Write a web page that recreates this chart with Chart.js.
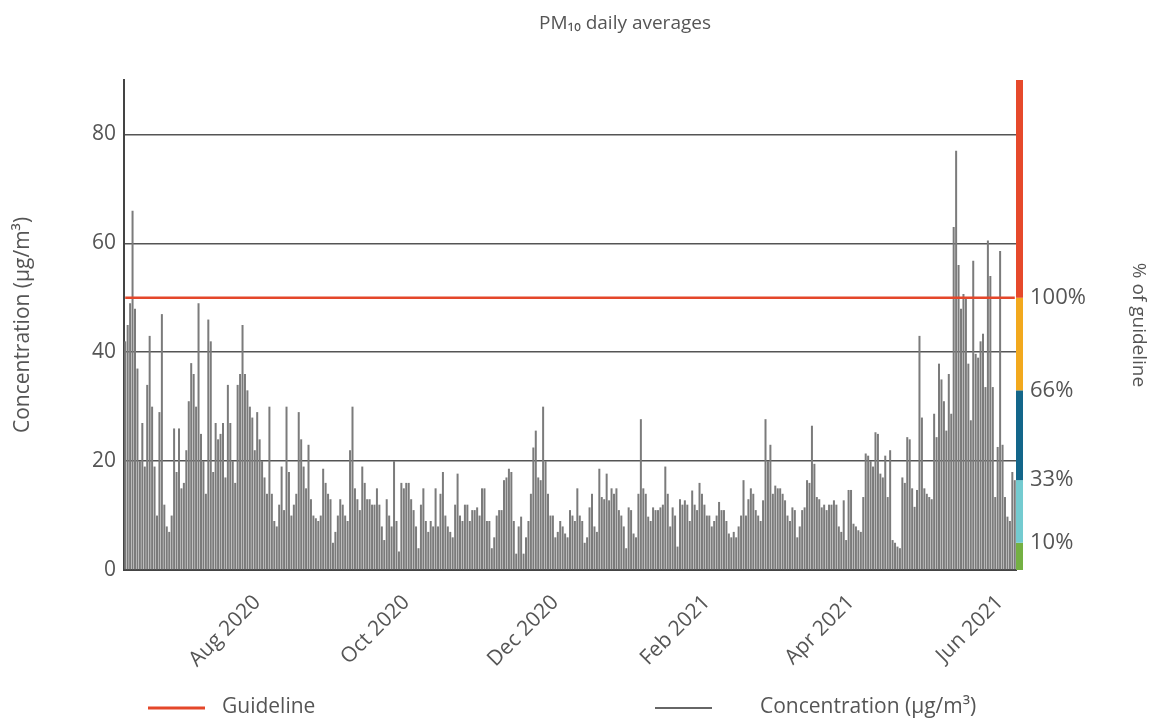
<!DOCTYPE html>
<html lang="en">
<head>
<meta charset="UTF-8">
<title>PM10 daily averages</title>
<script src="https://cdn.jsdelivr.net/npm/chart.js"></script>
<style>
    body { margin: 0; background: #fff; }
    .chart-box { position: relative; width: 1158px; height: 725px; }
</style>
</head>
<body>
<div class="chart-box"><canvas id="pmChart"></canvas></div>
<script>
// daily PM10 values, first day is 8 Jun 2020
const jun2020 = [42, 45, 49, 66, 48, 37, 20, 27, 19, 34, 43, 30, 19, 10, 29, 47, 12, 8, 7, 10, 26, 18, 26];
const jul2020 = [15, 16, 22, 31, 38, 36, 30, 49, 25, 20, 14, 46, 42, 18, 27, 24, 25, 27, 17, 34, 27, 20, 16, 34, 36, 45, 36, 33, 30, 28, 22];
const aug2020 = [29, 24, 20, 17, 14, 30, 14, 9, 8, 12, 19, 11, 30, 18, 10, 12, 14, 29, 24, 19, 15, 23, 13, 10, 9.5, 9, 10, 18.6, 16, 14, 13];
const sep2020 = [5, 7, 10, 13, 12, 10, 9, 22, 30, 15, 13, 11, 19, 16, 13, 13, 12, 12, 15, 12, 8, 5.5, 13, 10, 8, 20, 9, 3.4, 16, 15];
const oct2020 = [16, 16, 13, 11, 8, 4, 12, 15, 9, 7, 9, 8, 15, 8, 14, 18, 10, 8, 7, 6, 12, 17.7, 10, 9, 12, 12, 9, 11, 11, 11.5, 10];
const nov2020 = [15, 15, 9, 9, 4, 6, 10, 11, 11, 16.5, 17, 18.6, 18, 9, 3, 8, 9.8, 3, 6, 9, 14, 22.5, 25.6, 17, 16.5, 30, 20, 14, 10, 10];
const dec2020 = [6, 7, 9, 8, 6.7, 6, 11, 10, 9, 15, 10, 9, 5, 6, 11.5, 14, 8, 7, 18.6, 13.4, 13, 17.7, 12.8, 15, 14, 15, 11, 10, 8, 4, 11.5];
const jan2021 = [11, 6.7, 6, 14, 27.7, 15, 14, 9.8, 9, 11.5, 11, 11, 11.5, 12, 19, 14, 8, 11.5, 10, 4.3, 13, 12, 12.8, 12, 9, 14.6, 12, 11, 16, 14, 12];
const feb2021 = [10, 10, 8, 9, 10, 12.5, 11, 11, 9, 6.7, 6, 7, 6, 8, 10, 16.5, 10, 13, 15, 14, 11, 10, 9, 12.8, 27.7, 20, 23, 14];
const mar2021 = [15.5, 15, 15, 14, 12.8, 10, 9, 11.5, 11, 6, 8, 11, 11.5, 16.5, 16, 26.5, 19.5, 13.4, 13, 11.5, 12, 11, 12, 12, 12.8, 12, 8, 7, 12.8, 5.5, 14.7];
const apr2021 = [14.7, 8.5, 8, 7.3, 7, 13.4, 21.4, 21, 20, 19, 25.3, 25, 17.7, 17, 21, 13.4, 22, 5.5, 5, 4.3, 4, 17, 16, 24.4, 24, 15, 11.6, 14.7, 43, 28];
const may2021 = [15, 14, 13.4, 13, 28.7, 24.4, 37.9, 35, 31, 25.6, 36, 28.7, 63, 77, 56, 48, 50.7, 50, 37.9, 27.5, 56.8, 39.7, 39, 42, 43.4, 33.6, 60.5, 54, 33.6, 13.4, 22.6];
const jun2021 = [58.6, 23, 13.4, 9.8, 9, 18, 16.5];

const tickMonths = ['Aug 2020', 'Oct 2020', 'Dec 2020', 'Feb 2021', 'Apr 2021', 'Jun 2021'];
const yTicks = [0, 20, 40, 60, 80];
const guideline = 50;

// colour strip on the right: edges in µg/m³ and the % labels at the inner edges
const bandEdges = [0, 5, 16.5, 33, 50, 90];
const bandColours = ['#74b043', '#74cbd0', '#13668a', '#f2a91e', '#e6492b'];
const bandLabels = ['10%', '33%', '66%', '100%'];

const monthNames = ['Jan', 'Feb', 'Mar', 'Apr', 'May', 'Jun', 'Jul', 'Aug', 'Sep', 'Oct', 'Nov', 'Dec'];
const concentration = [].concat(jun2020, jul2020, aug2020, sep2020, oct2020, nov2020,
    dec2020, jan2021, feb2021, mar2021, apr2021, may2021, jun2021);

const days = concentration.map((v, i) => {
    const d = new Date(Date.UTC(2020, 5, 8 + i));
    const m = monthNames[d.getUTCMonth()] + ' ' + d.getUTCFullYear();
    return d.getUTCDate() === 1 ? m : m + ' ' + d.getUTCDate();
});

Chart.defaults.font.family = "'Open Sans', sans-serif";
Chart.defaults.color = '#555';

const bandPlugin = {
    id: 'bandStrip',
    afterDatasetsDraw(chart) {
        const ctx = chart.ctx;
        const y = chart.scales.y;
        const x0 = chart.chartArea.right;
        ctx.save();
        for (let k = 0; k < bandColours.length; k++) {
            const top = y.getPixelForValue(bandEdges[k + 1]);
            const bot = y.getPixelForValue(bandEdges[k]);
            ctx.fillStyle = bandColours[k];
            ctx.fillRect(x0, top, 7, bot - top);
        }
        ctx.restore();
    }
};

const extrasPlugin = {
    id: 'extras',
    afterDraw(chart) {
        const ctx = chart.ctx;
        ctx.save();
        // title
        ctx.fillStyle = '#555';
        ctx.font = "19px 'Open Sans', sans-serif";
        ctx.textAlign = 'center';
        ctx.textBaseline = 'middle';
        ctx.fillText('PM₁₀ daily averages', 625, 24);

        // legend, spread like the original
        const items = [
            { ds: chart.data.datasets[1], x: 148 },
            { ds: chart.data.datasets[0], x: 655 }
        ];
        ctx.textAlign = 'left';
        ctx.font = "21px 'Open Sans', sans-serif";
        items.forEach(it => {
            ctx.strokeStyle = it.ds.borderColor;
            ctx.lineWidth = it.ds.legendWidth;
            ctx.beginPath();
            ctx.moveTo(it.x, 708);
            ctx.lineTo(it.x + 57, 708);
            ctx.stroke();
            ctx.fillStyle = '#555';
            ctx.fillText(it.ds.label, it.x + it.ds.legendGap, 707);
        });
        ctx.restore();
    }
};

new Chart(document.getElementById('pmChart'), {
    data: {
        labels: days,
        datasets: [
            {
                type: 'bar',
                label: 'Concentration (µg/m³)',
                data: concentration,
                backgroundColor: '#7b7b7b',
                borderColor: '#666',
                borderWidth: 0,
                legendWidth: 2,
                legendGap: 105,
                barPercentage: 0.82,
                categoryPercentage: 1,
                order: 2
            },
            {
                type: 'line',
                label: 'Guideline',
                data: concentration.map(() => guideline),
                borderColor: '#e4472a',
                borderWidth: 2.5,
                legendWidth: 3,
                legendGap: 74,
                pointRadius: 0,
                order: 1
            }
        ]
    },
    options: {
        responsive: true,
        maintainAspectRatio: false,
        animation: false,
        layout: { padding: { top: 80, left: 0, right: 0, bottom: 0 } },
        plugins: {
            legend: { display: false },
            title: { display: false },
            tooltip: { enabled: false }
        },
        scales: {
            x: {
                grid: { display: false },
                border: { color: '#444', width: 2 },
                afterFit: s => { s.height = 155; },
                ticks: {
                    autoSkip: false,
                    minRotation: 45,
                    maxRotation: 45,
                    padding: 12,
                    font: { size: 21 },
                    color: '#555',
                    callback: function (val) {
                        const l = this.getLabelForValue(val);
                        return tickMonths.includes(l) ? l : null;
                    }
                }
            },
            y: {
                position: 'left',
                min: 0,
                max: 90,
                z: 1,
                afterBuildTicks: s => { s.ticks = yTicks.map(v => ({ value: v })); },
                afterFit: s => { s.width = 124; },
                grid: { color: '#555', lineWidth: 1.5, drawTicks: false },
                border: { color: '#444', width: 2 },
                ticks: { padding: 8, font: { size: 21 }, color: '#555' },
                title: {
                    display: true,
                    text: 'Concentration (µg/m³)',
                    font: { size: 21 },
                    color: '#555',
                    padding: { top: 10, bottom: 0 }
                }
            },
            y2: {
                position: 'right',
                min: 0,
                max: 90,
                afterBuildTicks: s => { s.ticks = bandEdges.slice(1, 5).map(v => ({ value: v })); },
                afterFit: s => { s.width = 142; },
                grid: { display: false, drawTicks: false },
                border: { display: false },
                ticks: {
                    padding: 14,
                    font: { size: 22 },
                    color: '#555',
                    callback: (v, i) => bandLabels[i]
                },
                title: {
                    display: true,
                    text: '% of guideline',
                    font: { size: 19 },
                    color: '#555',
                    padding: { top: 8, bottom: 0 }
                }
            }
        }
    },
    plugins: [bandPlugin, extrasPlugin]
});
</script>
</body>
</html>
